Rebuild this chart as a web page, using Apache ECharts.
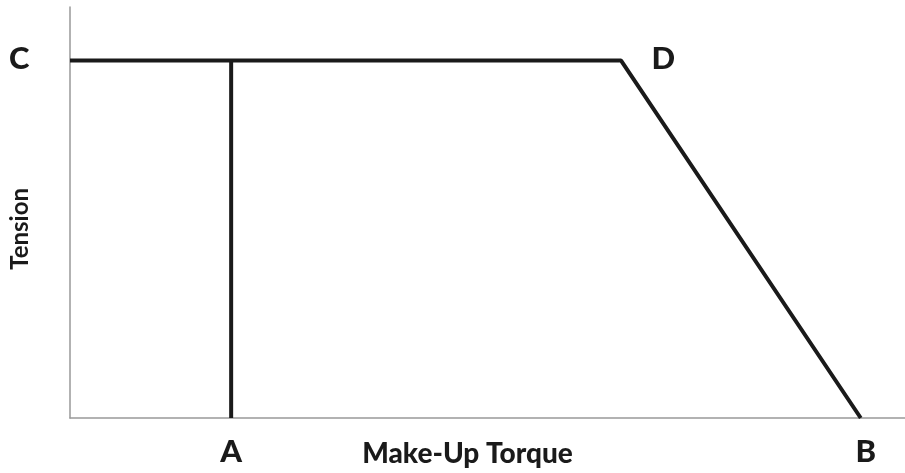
<!DOCTYPE html>
<html>
<head>
<meta charset="utf-8">
<title>Tension vs Make-Up Torque</title>
<script src="https://cdn.jsdelivr.net/npm/echarts@6/dist/echarts.min.js"></script>
<style>
    html, body { margin: 0; padding: 0; background: #fff; }
    #main { width: 905px; height: 473px; }
</style>
</head>
<body>
<div id="main"></div>
<script>
    // envelope points (abstract units, x: torque, y: tension)
    var envelope = [[0, 100], [66, 100], [94.7, 0]];
    var envelopeLabels = ['C', 'D', 'B'];
    var minTorque = [[19.3, 0], [19.3, 100]];
    var minTorqueLabels = ['A', ''];

    var labelStyle = { show: true, color: '#1a1a1a', fontFamily: 'Lato', fontWeight: 900, fontSize: 31 };

    var chart = echarts.init(document.getElementById('main'));

    var option = {
        backgroundColor: '#fff',
        animation: false,
        grid: { left: 70, right: 0, top: 7, bottom: 55 },
        graphic: [{
            type: 'text', left: 8, top: 188, rotation: Math.PI / 2,
            style: { text: 'Tension', fill: '#1a1a1a', font: 'bold 24px Lato' }
        }],
        xAxis: {
            type: 'value', min: 0, max: 100,
            name: 'Make-Up Torque', nameLocation: 'middle', nameGap: 22,
            nameTextStyle: { color: '#1a1a1a', fontFamily: 'Lato', fontWeight: 900, fontSize: 28, padding: [0, 40, 0, 0] },
            axisLine: { lineStyle: { color: '#999', width: 1.5 } },
            axisTick: { show: false }, axisLabel: { show: false }, splitLine: { show: false }
        },
        yAxis: {
            type: 'value', min: 0, max: 115,
            axisLine: { lineStyle: { color: '#999', width: 1.5 } },
            axisTick: { show: false }, axisLabel: { show: false }, splitLine: { show: false }
        },
        series: [
            {
                type: 'line',
                data: envelope.map(function (p, i) {
                    var pos = i === 0 ? 'left' : (i === 1 ? 'right' : 'bottom');
                    var dist = i === 0 ? 40 : (i === 1 ? 30 : 18);
                    return { value: p, label: Object.assign({}, labelStyle, { formatter: envelopeLabels[i], position: pos, distance: dist, offset: i === 2 ? [5, 0] : [0, -2] }) };
                }),
                symbol: 'circle', symbolSize: 1, showSymbol: true,
                itemStyle: { color: 'rgba(0,0,0,0)' },
                lineStyle: { color: '#1a1a1a', width: 4 }
            },
            {
                type: 'line',
                data: minTorque.map(function (p, i) {
                    return { value: p, label: Object.assign({}, labelStyle, { formatter: minTorqueLabels[i], position: 'bottom', distance: 18 }) };
                }),
                symbol: 'circle', symbolSize: 1, showSymbol: true,
                itemStyle: { color: 'rgba(0,0,0,0)' },
                lineStyle: { color: '#1a1a1a', width: 4 }
            }
        ]
    };

    chart.setOption(option);
</script>
</body>
</html>
